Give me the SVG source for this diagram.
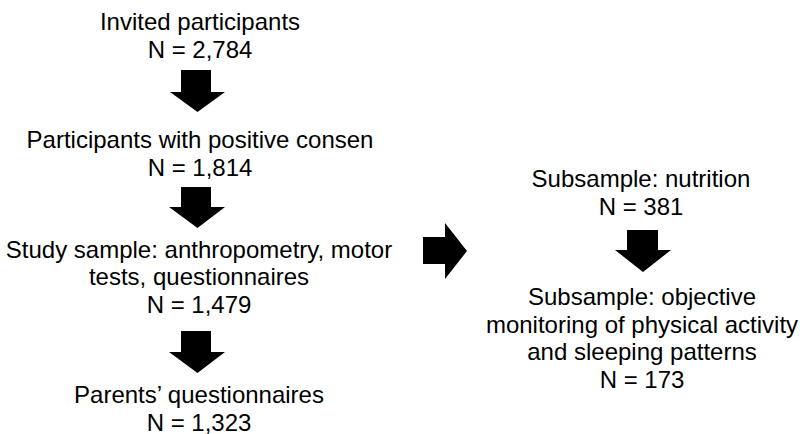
<svg xmlns="http://www.w3.org/2000/svg" width="802" height="434" viewBox="0 0 802 434">
<style>
text{font-family:"Liberation Sans",Arial,sans-serif;font-size:24px;fill:#000;text-anchor:middle}
.arr{fill:#000}
</style>
<rect width="802" height="434" fill="#fff"/>
<g id="n1"><text x="200" y="30">Invited participants</text><text x="200" y="57.5">N = 2,784</text></g>
<g id="n2"><text x="200" y="148">Participants with positive consen</text><text x="200" y="175.5">N = 1,814</text></g>
<g id="n3"><text x="199" y="257.5">Study sample: anthropometry, motor</text><text x="199" y="285">tests, questionnaires</text><text x="199" y="312.5">N = 1,479</text></g>
<g id="n4"><text x="199" y="403">Parents’ questionnaires</text><text x="199" y="430.5">N = 1,323</text></g>
<g id="n5"><text x="641" y="187">Subsample: nutrition</text><text x="641" y="214.5">N = 381</text></g>
<g id="n6"><text x="642" y="305">Subsample: objective</text><text x="642" y="332.5">monitoring of physical activity</text><text x="642" y="360">and sleeping patterns</text><text x="642" y="387.5">N = 173</text></g>
<g id="connectors">
<polygon class="arr" points="181,70 211,70 211,92 225,92 197.5,112 170,92 181,92"/>
<polygon class="arr" points="181,187 211,187 211,207 225,207 197.5,228 169,207 181,207"/>
<polygon class="arr" points="181,331 211,331 211,352 225,352 197.5,373 169,352 181,352"/>
<polygon class="arr" points="423,237 445,237 445,223 467,251 445,279 445,264 423,264"/>
<polygon class="arr" points="627,230 658,230 658,250 671,250 643,272 615,250 627,250"/>
</g>
</svg>
